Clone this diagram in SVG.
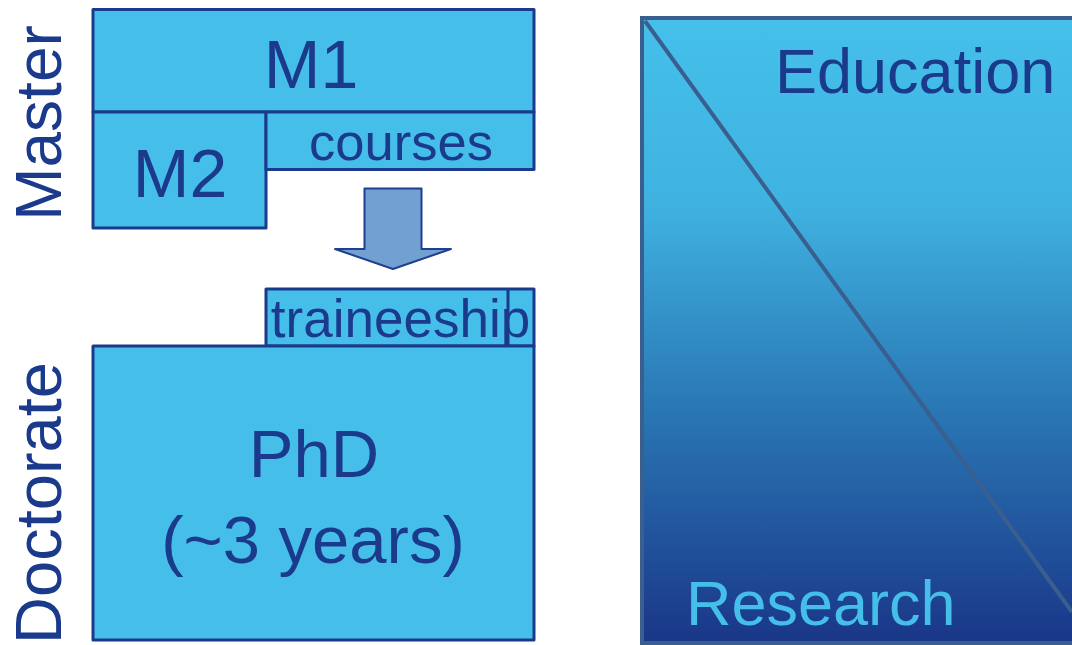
<svg xmlns="http://www.w3.org/2000/svg" width="1072" height="645" viewBox="0 0 1072 645">
<defs>
<linearGradient id="panelGrad" x1="0" y1="0" x2="0" y2="1">
<stop offset="0" stop-color="#45C0EB"/>
<stop offset="0.3" stop-color="#3FB2E0"/>
<stop offset="0.62" stop-color="#2A78B5"/>
<stop offset="1" stop-color="#1A3688"/>
</linearGradient>
<style>
.box{fill:#45BFEA;stroke:#1B3A8C;stroke-width:3;stroke-linejoin:round}
.t{font-family:"Liberation Sans",Arial,sans-serif;fill:#1B3A8C;text-anchor:middle}
</style>
</defs>
<rect width="1072" height="645" fill="#FFFFFF"/>
<g id="label-master"><text class="t" font-size="64" transform="translate(61,123) rotate(-90)">Master</text></g>
<g id="label-doctorate"><text class="t" font-size="65" transform="translate(61,503) rotate(-90)">Doctorate</text></g>
<g id="m1"><rect class="box" x="93" y="9.5" width="441" height="102.5"/><text class="t" x="311" y="88" font-size="68">M1</text></g>
<g id="m2"><rect class="box" x="93" y="112" width="173" height="116"/><text class="t" x="180" y="197" font-size="68">M2</text></g>
<g id="courses"><rect class="box" x="266" y="112" width="268" height="57.5"/><text class="t" x="401" y="160" font-size="52.5">courses</text></g>
<g id="arrow"><polygon points="364.5,188.5 421.5,188.5 421.5,249 451,249 393,269 335,249 364.5,249" fill="#72A0D0" stroke="#1F3F8F" stroke-width="2" stroke-linejoin="round"/></g>
<g id="traineeship"><rect class="box" x="266" y="289" width="268" height="57"/><line x1="508" y1="290" x2="508" y2="346" stroke="#1B3A8C" stroke-width="3"/><text class="t" x="400.5" y="337" font-size="53">traineeship</text></g>
<g id="phd"><rect class="box" x="93" y="346" width="441" height="294"/><text class="t" x="314" y="477" font-size="67">PhD</text><text class="t" x="313" y="563" font-size="67">(~3 years)</text></g>
<g id="panel">
<rect x="642" y="18" width="440" height="625" fill="url(#panelGrad)" stroke="#3A5F8F" stroke-width="4"/>
<line x1="645" y1="21" x2="1072" y2="612" stroke="#3A5F8F" stroke-width="4"/>
<text x="775" y="93" font-family="&quot;Liberation Sans&quot;,Arial,sans-serif" font-size="63" fill="#1B3A8C">Education</text>
<text x="686" y="625" font-family="&quot;Liberation Sans&quot;,Arial,sans-serif" font-size="63" fill="#45BFEA">Research</text>
</g>
<g id="connectors"></g>
</svg>
